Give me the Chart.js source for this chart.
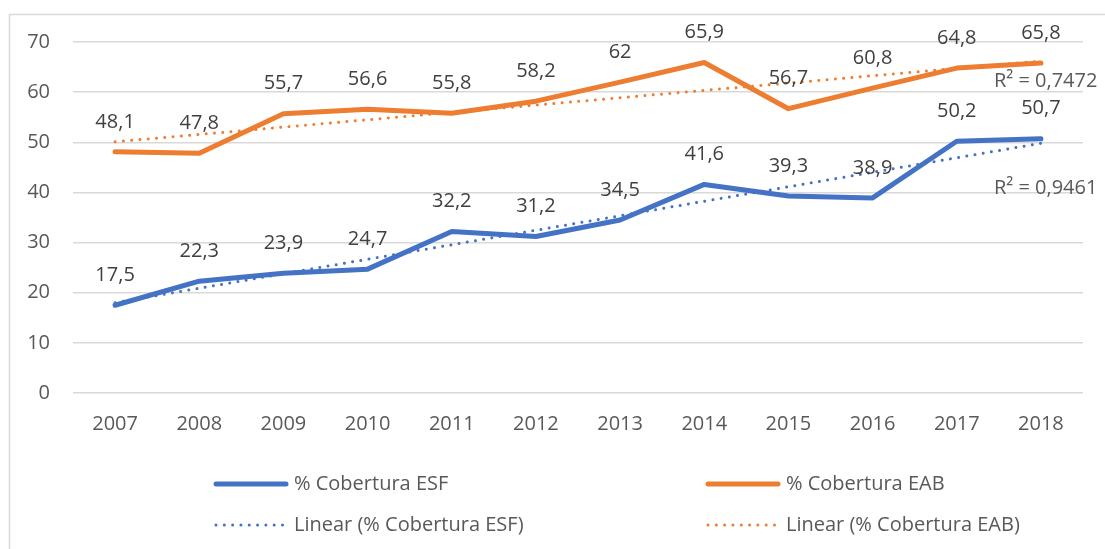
<!DOCTYPE html>
<html>
<head>
<meta charset="utf-8">
<script src="https://cdn.jsdelivr.net/npm/chart.js@4.4.1/dist/chart.umd.min.js"></script>
<style>
  body { margin: 0; background: #fff; }
  canvas { display: block; }
</style>
</head>
<body>
<canvas id="coverageChart" width="1105" height="549"></canvas>
<script>
const years = ['2007', '2008', '2009', '2010', '2011', '2012', '2013', '2014', '2015', '2016', '2017', '2018'];
const coberturaESF = [17.5, 22.3, 23.9, 24.7, 32.2, 31.2, 34.5, 41.6, 39.3, 38.9, 50.2, 50.7];
const coberturaEAB = [48.1, 47.8, 55.7, 56.6, 55.8, 58.2, 62, 65.9, 56.7, 60.8, 64.8, 65.8];
// linear trend, value at first and last year
const trendESF = [18.0, 49.8];
const trendEAB = [50.1, 66.2];
const rSquared = ['0,9461', '0,7472'];
const seriesNames = ['% Cobertura ESF', '% Cobertura EAB'];

const BLUE = '#4472C4';
const ORANGE = '#ED7D31';
const TEXT = '#595959';
const FONT = "'Open Sans', sans-serif";

function trendData(ends) {
    const arr = years.map(() => null);
    arr[0] = ends[0];
    arr[arr.length - 1] = ends[1];
    return arr;
}

function fmt(v) {
    return String(v).replace('.', ',');
}

// frame, data labels, R² texts and the legend
const decorations = {
    id: 'decorations',
    beforeDraw(chart) {
        const ctx = chart.ctx;
        ctx.save();
        ctx.strokeStyle = '#d9d9d9';
        ctx.lineWidth = 1.5;
        ctx.strokeRect(9.5, 14.5, 1200, 600);
        ctx.restore();
    },
    afterDatasetsDraw(chart) {
        const ctx = chart.ctx;
        ctx.save();
        ctx.font = '20px ' + FONT;
        ctx.fillStyle = '#404040';
        ctx.textAlign = 'center';
        ctx.textBaseline = 'middle';
        [0, 1].forEach(i => {
            const meta = chart.getDatasetMeta(i);
            const values = chart.data.datasets[i].data;
            meta.data.forEach((pt, j) => {
                ctx.fillText(fmt(values[j]), pt.x, pt.y - 30);
            });
        });

        // R² next to the end of each trend line
        ctx.fillStyle = TEXT;
        ctx.textAlign = 'left';
        const rOffsets = [45, 20];
        [2, 3].forEach((d, k) => {
            const meta = chart.getDatasetMeta(d);
            const last = meta.data[meta.data.length - 1];
            ctx.fillText('R\u00B2 = ' + rSquared[k], last.x - 47, last.y + rOffsets[k]);
        });
        ctx.restore();
    },
    afterDraw(chart) {
        const ctx = chart.ctx;
        const items = [
            { text: seriesNames[0], color: BLUE, dotted: false, x: 216, y: 484 },
            { text: seriesNames[1], color: ORANGE, dotted: false, x: 708, y: 484 },
            { text: 'Linear (' + seriesNames[0] + ')', color: BLUE, dotted: true, x: 216, y: 525 },
            { text: 'Linear (' + seriesNames[1] + ')', color: ORANGE, dotted: true, x: 708, y: 525 }
        ];
        ctx.save();
        ctx.font = '20px ' + FONT;
        ctx.textBaseline = 'middle';
        ctx.textAlign = 'left';
        items.forEach(it => {
            ctx.beginPath();
            ctx.strokeStyle = it.color;
            ctx.lineCap = 'round';
            if (it.dotted) {
                ctx.lineWidth = 3;
                ctx.setLineDash([0.01, 8.3]);
            } else {
                ctx.lineWidth = 5;
                ctx.setLineDash([]);
            }
            ctx.moveTo(it.x, it.y);
            ctx.lineTo(it.x + 70, it.y);
            ctx.stroke();
            ctx.fillStyle = TEXT;
            ctx.fillText(it.text, it.x + 78, it.y);
        });
        ctx.restore();
    }
};

const ctx = document.getElementById('coverageChart').getContext('2d');
const chart = new Chart(ctx, {
    type: 'line',
    data: {
        labels: years,
        datasets: [
            {
                label: seriesNames[0],
                data: coberturaESF,
                borderColor: BLUE,
                borderWidth: 5,
                borderCapStyle: 'round',
                borderJoinStyle: 'round',
                pointRadius: 0,
                tension: 0
            },
            {
                label: seriesNames[1],
                data: coberturaEAB,
                borderColor: ORANGE,
                borderWidth: 5,
                borderCapStyle: 'round',
                borderJoinStyle: 'round',
                pointRadius: 0,
                tension: 0
            },
            {
                label: 'Linear (' + seriesNames[0] + ')',
                data: trendData(trendESF),
                borderColor: BLUE,
                borderWidth: 3,
                borderDash: [0.01, 8.3],
                borderCapStyle: 'round',
                pointRadius: 0,
                spanGaps: true
            },
            {
                label: 'Linear (' + seriesNames[1] + ')',
                data: trendData(trendEAB),
                borderColor: ORANGE,
                borderWidth: 3,
                borderDash: [0.01, 8.3],
                borderCapStyle: 'round',
                pointRadius: 0,
                spanGaps: true
            }
        ]
    },
    options: {
        responsive: false,
        animation: false,
        layout: { padding: { top: 42, right: 22, left: 0, bottom: 0 } },
        plugins: {
            legend: { display: false },
            tooltip: { enabled: false }
        },
        scales: {
            x: {
                offset: true,
                grid: { display: false },
                border: { display: false },
                ticks: { color: TEXT, font: { family: FONT, size: 20 }, padding: 11, maxRotation: 0 },
                afterFit: s => { s.height = 156; }
            },
            y: {
                min: 0,
                max: 70,
                ticks: { stepSize: 10, color: TEXT, font: { family: FONT, size: 20 }, padding: 23 },
                grid: { color: '#d9d9d9', lineWidth: 1.5, drawTicks: false },
                border: { display: false },
                afterFit: s => { s.width = 73; }
            }
        }
    },
    plugins: [decorations]
});
</script>
</body>
</html>
